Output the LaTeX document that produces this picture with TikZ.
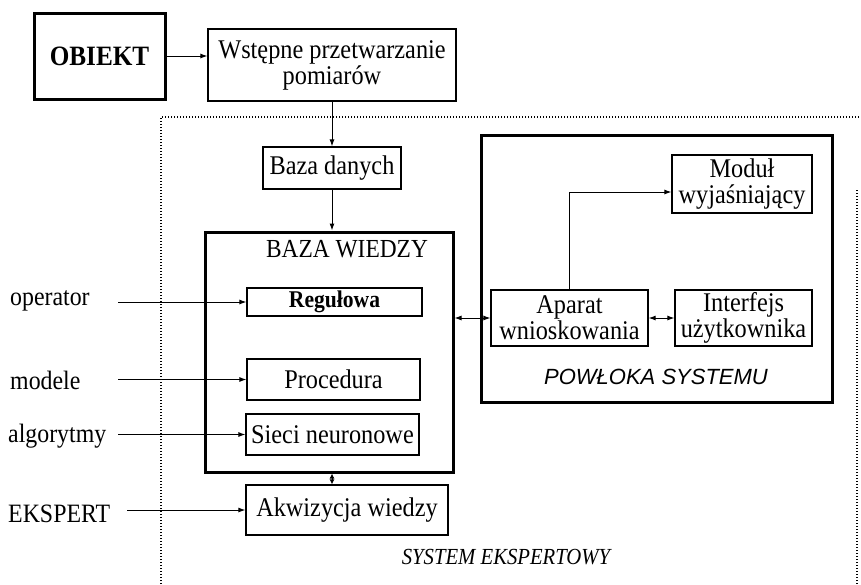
\documentclass[tikz,border=0pt]{standalone}
\usepackage{fontspec}
\setmainfont{Liberation Serif}[FakeStretch=0.9]
\newfontfamily\labelsans{Liberation Sans}
\usetikzlibrary{arrows.meta}
\begin{document}
\begin{tikzpicture}[x=1pt,y=-1pt,
  box/.style={draw,line width=1.2pt,inner sep=0pt,align=center,font=\fontsize{27}{26}\selectfont},
  heavybox/.style={draw,line width=3pt,inner sep=0pt,align=center},
  arr/.style={line width=1pt,-{Latex[length=7pt,width=5pt]}},
  dbl/.style={line width=1pt,{Latex[length=7pt,width=5pt]}-{Latex[length=7pt,width=5pt]}},
  side/.style={anchor=west,inner sep=0pt,font=\fontsize{26.5}{26}\selectfont},
  frame/.style={line width=1.1pt,dash pattern=on 1pt off 2pt}]

\useasboundingbox (0,0) rectangle (861,584);

% outer dotted frame of the expert system
\draw[frame] (161,584) -- (161,117) -- (861,117);
\draw[frame] (857,190) -- (857,584);

% top row
\node[heavybox,minimum width=131pt,minimum height=86pt,font=\bfseries\fontsize{28}{26}\selectfont] (obj) at (99.5,56) {OBIEKT};
\node[box,minimum width=248pt,minimum height=72pt] (pre) at (332,65) {Wstępne przetwarzanie\\pomiarów};
\node[box,minimum width=138pt,minimum height=42pt] (db) at (332,168) {Baza danych};

% knowledge base
\node[heavybox,minimum width=248pt,minimum height=240pt] (kb) at (329,352) {};
\node[inner sep=0pt,font=\fontsize{26}{26}\selectfont] (kbt) at (347,249) {BAZA WIEDZY};
\node[box,minimum width=175pt,minimum height=28pt,font=\bfseries\fontsize{24}{24}\selectfont] (reg) at (334.5,302) {Regułowa};
\node[box,minimum width=173pt,minimum height=41pt] (proc) at (333.5,379.5) {Procedura};
\node[box,minimum width=173pt,minimum height=41pt] (sn) at (332.5,434.5) {Sieci neuronowe};
\node[box,minimum width=202pt,minimum height=50pt] (akw) at (347,510) {Akwizycja wiedzy};

% system shell
\node[heavybox,minimum width=351pt,minimum height=267pt] (shell) at (656.5,268.5) {};
\node[box,minimum width=140pt,minimum height=58pt] (mod) at (742,184) {Moduł\\wyjaśniający};
\node[box,minimum width=157pt,minimum height=56pt] (ap) at (569.5,318) {Aparat\\wnioskowania};
\node[box,minimum width=137pt,minimum height=56pt] (ui) at (743.5,318) {Interfejs\\użytkownika};
\node[inner sep=0pt,font=\labelsans\itshape\fontsize{22}{24}\selectfont] (shellt) at (656,377) {POWŁOKA SYSTEMU};

\node[inner sep=0pt,font=\itshape\fontsize{23}{24}\selectfont] (est) at (506,557) {SYSTEM EKSPERTOWY};

% external inputs
\node[side] (op) at (10,301) {operator};
\node[side] (md) at (10,380) {modele};
\node[side] (alg) at (8,436) {algorytmy};
\node[side] (exp) at (8,514) {EKSPERT};
\coordinate (opin) at (118,302);
\coordinate (mdin) at (118,379.5);
\coordinate (algin) at (118,434.5);
\coordinate (expin) at (127,510);

% connectors
\draw[arr] (obj.east) -- (obj.east -| pre.west);
\draw[arr] (pre) -- (db);
\draw[arr] (db) -- (db |- kb.north);
\draw[dbl,{Latex[length=5pt,width=5pt]}-{Latex[length=5pt,width=5pt]}] (db |- kb.south) -- (db |- akw.north);
\draw[dbl] (kb.east |- ap) -- (ap.west);
\draw[dbl] (ap) -- (ui);
\draw[arr] (ap.north) |- ([yshift=-8pt]mod.west);
\draw[arr] (opin) -- (reg.west);
\draw[arr] (mdin) -- (proc.west);
\draw[arr] (algin) -- (sn.west);
\draw[arr] (expin) -- (akw.west);
\end{tikzpicture}
\end{document}
